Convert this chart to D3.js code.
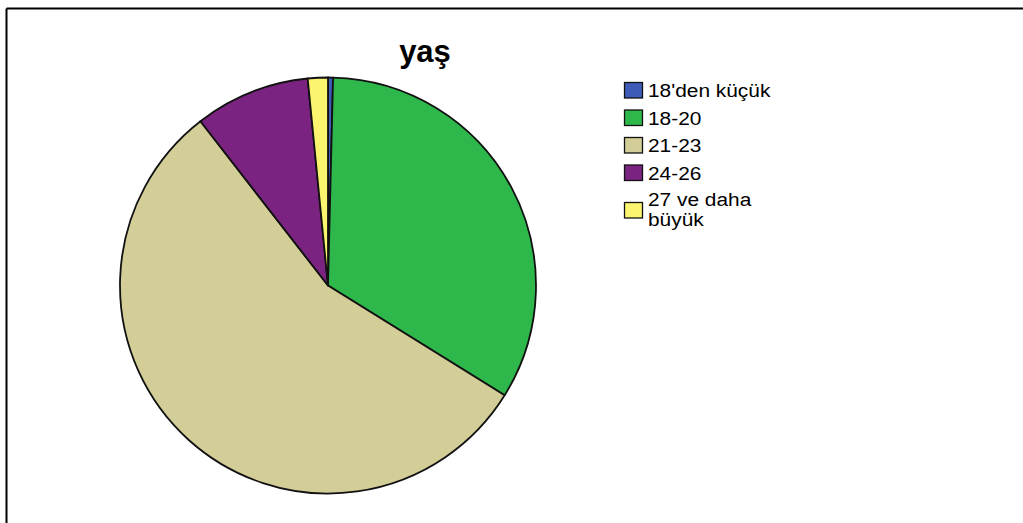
<!DOCTYPE html>
<html>
<head>
<meta charset="utf-8">
<script src="https://cdn.jsdelivr.net/npm/d3@7"></script>
<style>
  html, body { margin: 0; padding: 0; background: #fff; }
  svg { display: block; }
</style>
</head>
<body>
<script>
// Age groups (yaş) and respondent counts
const categories = ["18'den küçük", "18-20", "21-23", "24-26", "27 ve daha büyük"];
const legendLines = [["18'den küçük"], ["18-20"], ["21-23"], ["24-26"], ["27 ve daha", "büyük"]];
const counts = [1, 86, 143, 23, 4];
const colors = ["#3e5bb8", "#2eb84b", "#d3cd98", "#7b2380", "#fbf46e"];
const title = "yaş";

const W = 1023, H = 523;
const svg = d3.select("body").append("svg").attr("width", W).attr("height", H);

// Outer frame (top and left edges visible)
svg.append("line").attr("x1", 6.5).attr("y1", 8.5).attr("x2", W).attr("y2", 8.5)
  .attr("stroke", "#000").attr("stroke-width", 2);
svg.append("line").attr("x1", 6.5).attr("y1", 8.5).attr("x2", 6.5).attr("y2", H)
  .attr("stroke", "#000").attr("stroke-width", 2);

// Title
svg.append("text").attr("x", 425).attr("y", 62).attr("text-anchor", "middle")
  .attr("font-family", "Liberation Sans, Arial, sans-serif").attr("font-weight", "bold")
  .attr("font-size", 31).attr("fill", "#000").text(title);

// Pie
const cx = 328, cy = 285.5, r = 208;
const color = d3.scaleOrdinal().domain(categories).range(colors);
const pie = d3.pie().value(d => d.v).sort(null).startAngle(0).endAngle(2 * Math.PI);
const arc = d3.arc().innerRadius(0).outerRadius(r);
const data = categories.map((c, i) => ({ c, v: counts[i] }));

const g = svg.append("g").attr("transform", `translate(${cx},${cy})`);
g.selectAll("path").data(pie(data)).join("path")
  .attr("d", arc)
  .attr("fill", d => color(d.data.c))
  .attr("stroke", "#111")
  .attr("stroke-width", 1.8)
  .attr("stroke-linejoin", "round");

// Legend: swatch plus a label (slightly widened glyphs) that may wrap onto two lines
const lg = svg.append("g").attr("font-family", "Liberation Sans, Arial, sans-serif")
  .attr("font-size", 18).attr("fill", "#000");
const rowY = [82, 109.5, 137, 164.5, 202];
categories.forEach((c, i) => {
  lg.append("rect").attr("x", 624.5).attr("y", rowY[i] + 0.5).attr("width", 18).attr("height", 15.5)
    .attr("fill", color(c)).attr("stroke", "#111").attr("stroke-width", 1.3);
  const lines = legendLines[i];
  const y0 = lines.length > 1 ? rowY[i] + 4 : rowY[i] + 15;
  const txt = lg.append("text")
    .attr("transform", `translate(648,${y0}) scale(1.16,1)`);
  lines.forEach((t, j) => {
    txt.append("tspan").attr("x", 0).attr("dy", j === 0 ? 0 : 20.5).text(t);
  });
});
</script>
</body>
</html>
